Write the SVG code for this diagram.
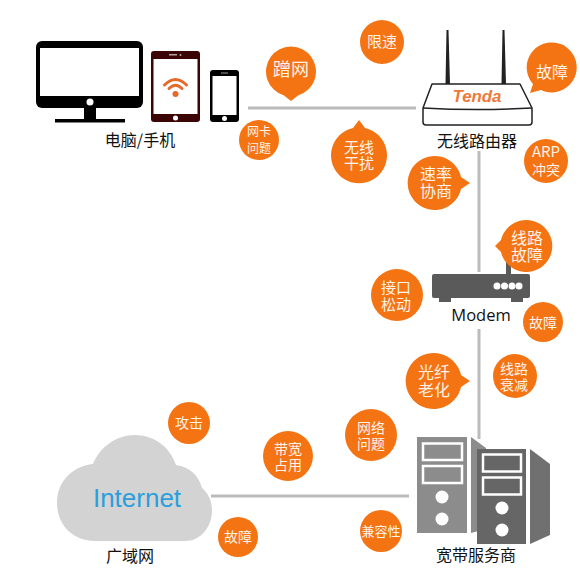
<svg xmlns="http://www.w3.org/2000/svg" width="580" height="580" viewBox="0 0 580 580">
<style>
text{font-family:"Noto Sans CJK SC","Liberation Sans",sans-serif;text-anchor:middle}
.b{fill:#f47414}
.t{fill:#fff2e6}
.f18{font-size:18px}.f16{font-size:16px}.f15{font-size:15px}.f14{font-size:14px}.f13{font-size:13px}.f12{font-size:12px}
.lab{fill:#111;font-size:16px}
.ln{stroke:#bbb;stroke-width:3;fill:none}
.dr{fill:none;stroke:#fff;stroke-width:2.5}
</style>
<rect width="580" height="580" fill="#fff"/>
<g id="connectors">
<path class="ln" d="M248 108H416"/>
<path class="ln" d="M479 151V272"/>
<path class="ln" d="M479 329V439"/>
<path class="ln" d="M211 496H409"/>
</g>
<g id="devices">
<rect x="36" y="41" width="107" height="67" rx="6" fill="#000"/>
<rect x="40" y="48" width="99" height="48" fill="#fff"/>
<circle cx="90" cy="102" r="3.5" fill="#fff"/>
<rect x="84" y="108" width="12" height="12" fill="#000"/>
<rect x="55" y="119" width="70" height="3.5" fill="#000"/>
<rect x="151" y="51" width="49" height="71" rx="3" fill="#3c0505"/>
<rect x="153.500" y="59" width="44" height="55" fill="#fff"/>
<circle cx="175.500" cy="118" r="2.500" fill="#fff"/>
<rect x="169" y="54" width="8" height="1.500" fill="#b9a0a0"/>
<circle cx="180.500" cy="55" r="1" fill="#b9a0a0"/>
<circle cx="175.500" cy="94" r="3" fill="#e8682a"/>
<path d="M169 88.500Q175.500 82 182 88.500M164.500 85Q175.500 74 186.500 85" fill="none" stroke="#e8682a" stroke-width="3" stroke-linecap="round"/>
<rect x="210" y="70" width="29" height="52" rx="3" fill="#000"/>
<rect x="212.500" y="76" width="24" height="39" fill="#fff"/>
<circle cx="224.500" cy="118.500" r="2.500" fill="#fff"/>
<rect x="221" y="72.500" width="7" height="1" fill="#999"/>
<text class="lab" x="140" y="146">电脑/手机</text>
</g>
<g id="router">
<path d="M445.500 84L446.500 30H448.500L450 84ZM501.500 84L502.500 30H504.500L506 84Z" fill="#222"/>
<path d="M432 84H520L532 108V122Q532 125 529 125H426Q423 125 423 122V108Z" fill="#fff" stroke="#222" stroke-width="1.500" stroke-linejoin="round"/>
<path d="M423 108Q477 111 532 108" fill="none" stroke="#222" stroke-width="1.500"/>
<text x="477" y="102" font-size="17" font-weight="700" font-style="italic" fill="#ec7a3a" textLength="49" lengthAdjust="spacingAndGlyphs" style="font-family:'Liberation Sans',sans-serif">Tenda</text>
<text class="lab" x="477" y="147">无线路由器</text>
</g>
<g id="modem">
<rect x="506" y="260" width="5" height="15" fill="#5a5a5a"/>
<rect x="432" y="274" width="98" height="24" rx="2" fill="#5a5a5a"/>
<rect x="439" y="297" width="12" height="5" fill="#5a5a5a"/>
<rect x="511" y="297" width="12" height="5" fill="#5a5a5a"/>
<circle cx="497" cy="286" r="3.500" fill="#fff"/>
<circle cx="504.500" cy="286" r="3.500" fill="#fff"/>
<circle cx="512" cy="286" r="3.500" fill="#fff"/>
<circle cx="519" cy="286" r="3.500" fill="#fff"/>
<text x="481" y="321" fill="#111" font-size="16.500" style="font-family:'Open Sans','Liberation Sans',sans-serif">Modem</text>
</g>
<g id="isp">
<rect x="417" y="437" width="50" height="96" fill="#8c8c8c"/>
<path d="M471 437L486 448V529L471 533Z" fill="#8c8c8c"/>
<rect x="423" y="443.500" width="39" height="16.500" class="dr"/>
<rect x="423" y="466" width="39" height="17" class="dr"/>
<circle cx="442" cy="497" r="6.500" fill="#fff"/>
<circle cx="442" cy="519" r="6.500" fill="#fff"/>
<rect x="477" y="449" width="49" height="95" fill="#666"/>
<path d="M530 449L550 464V535L530 544Z" fill="#707070"/>
<rect x="483" y="454.500" width="38" height="17" class="dr"/>
<rect x="483" y="477.500" width="38" height="17" class="dr"/>
<circle cx="502" cy="508" r="6.500" fill="#fff"/>
<circle cx="502" cy="530" r="6.500" fill="#fff"/>
<text class="lab" x="476" y="561">宽带服务商</text>
</g>
<g id="internet">
<path d="M95 541C72 541 57 524 57 503C57 481 73 466 93 464C100 447 116 435 135 435C154 435 170 447 176 465C190 467 199 476 202 488C208 493 212 501 212 510C212 528 200 541 185 541Z" fill="#d3d3d3"/>
<text x="137" y="507" font-size="26" fill="#2a9fdc" style="font-family:'Liberation Sans',sans-serif">Internet</text>
<text class="lab" x="130" y="562">广域网</text>
</g>
<g id="b-cengwang"><path class="b" d="M291 101L284 95.500A25 25 0 1 1 298 95.500Z"/><text class="t f18" x="291" y="76">蹭网</text></g>
<g id="b-wangka"><circle class="b" cx="259" cy="140" r="20"/><text class="t f12" x="259" y="136">网卡<tspan x="259" dy="17">问题</tspan></text></g>
<g id="b-xiansu"><circle class="b" cx="382" cy="42" r="22"/><text class="t f15" x="382" y="47">限速</text></g>
<g id="b-guzhang1"><path class="b" d="M530 93L533 84A25 25 0 1 1 541 90Z"/><text class="t f16" x="552" y="78">故障</text></g>
<g id="b-wuxian"><path class="b" d="M359 120L365 128A28 28 0 1 1 353 128Z"/><text class="t f15" x="359" y="153">无线<tspan x="359" dy="16">干扰</tspan></text></g>
<g id="b-sulv"><path class="b" d="M470 183L461 189A27 27 0 1 1 461 177Z"/><text class="t f16" x="436" y="180">速率<tspan x="436" dy="17">协商</tspan></text></g>
<g id="b-arp"><circle class="b" cx="546" cy="161" r="22"/><text class="t f14" x="546" y="157"><tspan style="font-size:15px">ARP</tspan><tspan x="546" dy="18">冲突</tspan></text></g>
<g id="b-xianlu1"><path class="b" d="M495 246L501 240A26 26 0 1 1 501 252Z"/><text class="t f16" x="527" y="244">线路<tspan x="527" dy="17">故障</tspan></text></g>
<g id="b-jiekou"><circle class="b" cx="397" cy="295" r="26"/><text class="t f15" x="396" y="293">接口<tspan x="396" dy="17">松动</tspan></text></g>
<g id="b-guzhang2"><circle class="b" cx="543" cy="322" r="20"/><text class="t f14" x="543" y="328">故障</text></g>
<g id="b-guangxian"><path class="b" d="M470 381L461 387A28 28 0 1 1 461 375Z"/><text class="t f16" x="434" y="378">光纤<tspan x="434" dy="18">老化</tspan></text></g>
<g id="b-shuaijian"><circle class="b" cx="515" cy="376" r="22"/><text class="t f14" x="514" y="374">线路<tspan x="514" dy="16">衰减</tspan></text></g>
<g id="b-wangluo"><circle class="b" cx="371" cy="435" r="26"/><text class="t f14" x="371" y="433">网络<tspan x="371" dy="16">问题</tspan></text></g>
<g id="b-jianrong"><circle class="b" cx="381" cy="531" r="21"/><text class="t f13" x="381" y="536">兼容性</text></g>
<g id="b-gongji"><circle class="b" cx="189" cy="423" r="21"/><text class="t f14" x="189" y="428">攻击</text></g>
<g id="b-daikuan"><circle class="b" cx="288" cy="456" r="25"/><text class="t f14" x="288" y="454">带宽<tspan x="288" dy="16">占用</tspan></text></g>
<g id="b-guzhang3"><circle class="b" cx="238" cy="537" r="20"/><text class="t f14" x="238" y="542">故障</text></g>
</svg>
